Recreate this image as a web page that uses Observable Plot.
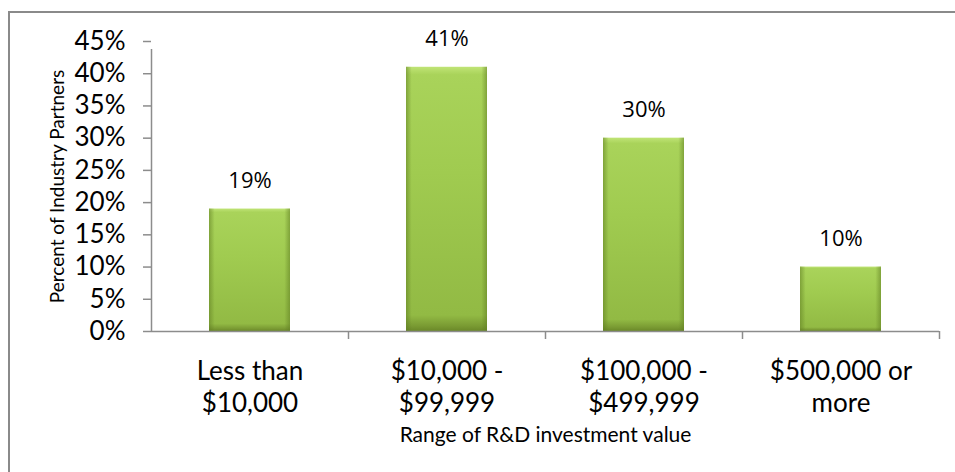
<!DOCTYPE html>
<html>
<head>
<meta charset="utf-8">
<script src="https://cdn.jsdelivr.net/npm/d3@7"></script>
<script src="https://cdn.jsdelivr.net/npm/@observablehq/plot@0.6"></script>
<style>
  html, body { margin: 0; padding: 0; background: #fff; }
  #wrap { position: relative; width: 955px; height: 472px; overflow: hidden; }
  #border { position: absolute; left: 8px; top: 11px; width: 2000px; height: 2000px;
    border-left: 2px solid #8a8a8a; border-top: 2px solid #8a8a8a; pointer-events: none; }
  svg { display: block; }
</style>
</head>
<body>
<div id="wrap"><div id="chart"></div><div id="border"></div></div>
<script>
const categories = ["Less than\n$10,000", "$10,000 -\n$99,999", "$100,000 -\n$499,999", "$500,000 or\nmore"];
const values = [19, 41, 30, 10];
const yTicks = [0, 5, 10, 15, 20, 25, 30, 35, 40, 45];
const xTitle = "Range of R&D investment value";
const yTitle = "Percent of Industry Partners";

const data = categories.map((c, i) => ({category: c, value: values[i]}));

const W = 955, H = 472;
const mL = 151, mR = 16, mT = 41, mB = 141;
const step = (W - mL - mR) / categories.length;
const grey = "#8c8c8c";
const tickFont = "Lato, 'Open Sans', sans-serif";

const plot = Plot.plot({
  width: W, height: H,
  marginLeft: mL, marginRight: mR, marginTop: mT, marginBottom: mB,
  style: {fontFamily: tickFont, background: "transparent", color: "#000"},
  x: {domain: categories, paddingInner: 0.59, paddingOuter: 0.295, axis: null},
  y: {domain: [0, 45], axis: null},
  marks: [
    Plot.barY(data, {x: "category", y: "value", fill: "url(#barV)"}),
    Plot.barY(data, {x: "category", y: "value", fill: "url(#barH)"}),
    Plot.ruleY([0], {stroke: grey, strokeWidth: 1.5}),
    Plot.ruleX([categories[0]], {y1: 0, y2: 45, dx: -step / 2, insetBottom: -8, stroke: grey, strokeWidth: 1.5}),
    Plot.ruleX(categories, {y1: 0, y2: 0, dx: step / 2, insetBottom: -8, stroke: grey, strokeWidth: 1.5}),
    // y tick marks
    Plot.ruleY(yTicks, {y: d => d, insetLeft: -8, insetRight: W - mL - mR, stroke: grey, strokeWidth: 1.5}),
    Plot.axisY(yTicks, {anchor: "left", tickSize: 0, tickPadding: 26, tickFormat: d => d + "%",
      fontSize: 26, fill: "#000", label: null}),
    Plot.text(data, {x: "category", y: "value", text: d => d.value + "%", dy: -28, lineAnchor: "middle",
      fontSize: 22, fontFamily: "'Open Sans', sans-serif", fill: "#000"}),
    Plot.text(categories, {x: d => d, y: () => 0, dy: 25, lineAnchor: "top", lineHeight: 1.25,
      fontSize: 26, fill: "#000"}),
    Plot.text([xTitle], {frameAnchor: "bottom", dy: 104, lineAnchor: "middle", fontSize: 21, fill: "#000"}),
    Plot.text([yTitle], {frameAnchor: "left", rotate: -90, dx: -94, textAnchor: "middle", lineAnchor: "middle",
      fontSize: 19, fill: "#000"})
  ]
});

const defs = d3.select(plot).insert("defs", ":first-child");
const gv = defs.append("linearGradient").attr("id", "barV").attr("x1", 0).attr("y1", 0).attr("x2", 0).attr("y2", 1);
[["0%", "#c0e476"], ["3%", "#a9d35a"], ["40%", "#a0cb50"], ["94%", "#92ba44"], ["98%", "#7a9b33"], ["100%", "#6a8828"]]
  .forEach(([o, c]) => gv.append("stop").attr("offset", o).attr("stop-color", c));
const gh = defs.append("linearGradient").attr("id", "barH").attr("x1", 0).attr("y1", 0).attr("x2", 1).attr("y2", 0);
[["0%", "#5f7d22", 0.55], ["7%", "#5f7d22", 0.0], ["93%", "#5f7d22", 0.0], ["100%", "#5f7d22", 0.55]]
  .forEach(([o, c, a]) => gh.append("stop").attr("offset", o).attr("stop-color", c).attr("stop-opacity", a));

document.getElementById("chart").appendChild(plot);
</script>
</body>
</html>
